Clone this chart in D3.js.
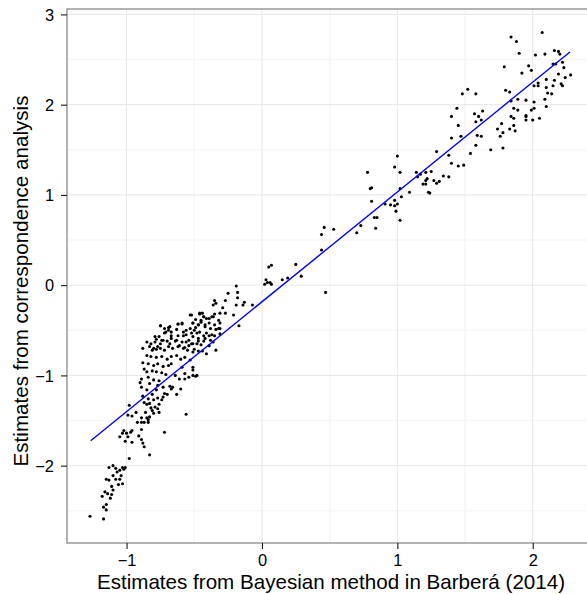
<!DOCTYPE html>
<html>
<head>
<meta charset="utf-8">
<script src="https://cdn.jsdelivr.net/npm/d3@7"></script>
<style>
  html, body { margin: 0; padding: 0; background: #fff; }
  svg { display: block; }
</style>
</head>
<body>
<script>
// ---- data ----
const points = [
  // middle band
  [0.02,0.01],[0.04,0.03],[0.06,0.03],[0.07,0.01],[0.03,0.06],[0.05,0.20],[0.07,0.22],[0.15,0.06],[0.19,0.08],[0.25,0.23],[0.29,0.10],[0.47,-0.08],[0.44,0.39],[0.44,0.56],[0.46,0.64],[0.53,0.62],[0.70,0.58],[0.73,0.66],[0.78,1.25],[0.80,1.07],[0.81,1.08],[0.81,0.93],[0.83,0.75],[0.85,0.75],[0.84,0.63],[0.91,0.90],[0.95,0.89],[0.98,0.94],[0.98,0.88],[1.00,0.90],[0.99,0.82],[1.02,0.72],[1.03,0.98],[1.02,1.07],[1.00,1.43],[0.98,1.31],[1.02,1.25],[1.09,1.03],[1.14,1.25],[1.15,1.20],[1.17,1.23],[1.19,1.12],[1.21,1.12],[1.21,1.25],[1.22,1.18],[1.21,1.16],[1.23,1.03],[1.24,1.02],[1.25,1.26],[1.27,1.16],[1.29,1.48],[1.29,1.13],[1.31,1.15],[1.34,1.21],[1.38,1.20],
  // upper right
  [1.84,2.75],[1.88,2.70],[1.90,2.57],[2.07,2.80],[1.79,2.42],[2.02,2.55],[2.09,2.56],[2.16,2.60],[2.19,2.59],[2.20,2.56],[2.22,2.47],[2.23,2.41],[2.15,2.45],[2.17,2.45],[1.97,2.43],[1.99,2.38],[1.92,2.35],[2.28,2.33],[2.24,2.30],[2.19,2.34],[2.16,2.27],[2.10,2.28],[2.04,2.24],[2.01,2.21],[2.04,2.21],[2.10,2.19],[2.15,2.21],[2.21,2.23],[2.22,2.21],[2.11,2.13],[2.14,2.12],[2.09,2.06],[2.10,1.98],[1.80,2.16],[1.83,2.14],[1.89,2.06],[1.95,2.05],[2.01,2.03],[1.84,2.04],[1.86,1.96],[1.89,1.94],[1.95,1.88],[1.95,1.87],[2.01,1.96],[1.99,1.94],[2.00,1.83],[1.95,1.83],[2.05,1.85],[1.84,1.87],[1.86,1.85],[1.77,1.79],[1.74,1.73],[1.78,1.69],[1.76,1.65],[1.83,1.73],[1.86,1.77],[1.87,1.71],[1.78,1.52],[1.48,2.12],[1.52,2.17],[1.58,2.12],[1.44,1.96],[1.40,1.87],[1.45,1.77],[1.47,1.65],[1.40,1.63],[1.57,1.90],[1.60,1.87],[1.63,1.93],[1.62,1.83],[1.58,1.81],[1.59,1.66],[1.62,1.65],[1.58,1.55],[1.54,1.46],[1.69,1.50],[1.38,1.44],[1.40,1.35],[1.45,1.32],[1.49,1.33],
  // dense cluster, right part
  [-0.19,-0.01],[-0.18,-0.08],[-0.25,-0.09],[-0.18,-0.14],[-0.13,-0.19],[-0.14,-0.22],[-0.07,-0.22],[-0.19,-0.22],[-0.27,-0.17],[-0.35,-0.17],[-0.36,-0.22],[-0.34,-0.20],[-0.29,-0.25],[-0.27,-0.31],[-0.31,-0.31],[-0.21,-0.33],[-0.35,-0.32],[-0.36,-0.35],[-0.32,-0.39],[-0.31,-0.42],[-0.17,-0.45],[-0.39,-0.37],[-0.39,-0.42],[-0.44,-0.31],[-0.46,-0.32],[-0.43,-0.35],[-0.53,-0.33],[-0.49,-0.38],[-0.45,-0.41],[-0.47,-0.44],[-0.42,-0.46],[-0.38,-0.48],[-0.34,-0.49],[-0.31,-0.48],[-0.49,-0.47],[-0.51,-0.42],[-0.59,-0.42],[-0.62,-0.43],[-0.63,-0.49],[-0.56,-0.50],[-0.52,-0.53],[-0.48,-0.53],[-0.43,-0.56],[-0.39,-0.56],[-0.35,-0.56],[-0.31,-0.54],[-0.36,-0.63],[-0.39,-0.67],[-0.34,-0.72],[-0.43,-0.62],[-0.47,-0.62],[-0.51,-0.65],[-0.54,-0.61],[-0.58,-0.56],[-0.62,-0.56],[-0.67,-0.56],[-0.64,-0.62],[-0.61,-0.67],[-0.57,-0.69],[-0.54,-0.67],[-0.50,-0.71],[-0.47,-0.73],[-0.44,-0.73],[-0.41,-0.76],[-0.63,-0.78],[-0.60,-0.82],[-0.57,-0.80],[-0.53,-0.83],[-0.67,-0.87],[-0.59,-0.91],[-0.64,-1.00],[-0.57,-0.98],[-0.54,-1.02],[-0.51,-0.91],[-0.48,-1.00],[-0.51,-0.94],[-0.68,-0.65],[-0.67,-0.79],
  // dense cluster, upper core (second reading)
  [-0.52,-0.33],[-0.46,-0.31],[-0.43,-0.35],[-0.45,-0.39],[-0.41,-0.37],[-0.37,-0.35],[-0.51,-0.42],[-0.47,-0.44],[-0.42,-0.44],[-0.35,-0.44],[-0.32,-0.48],[-0.75,-0.45],[-0.68,-0.46],[-0.62,-0.43],[-0.59,-0.43],[-0.53,-0.48],[-0.50,-0.50],[-0.46,-0.52],[-0.41,-0.53],[-0.37,-0.55],[-0.79,-0.57],[-0.72,-0.53],[-0.67,-0.52],[-0.58,-0.52],[-0.56,-0.55],[-0.51,-0.57],[-0.47,-0.59],[-0.42,-0.59],[-0.38,-0.61],[-0.85,-0.63],[-0.82,-0.65],[-0.74,-0.61],[-0.67,-0.59],[-0.63,-0.61],[-0.59,-0.63],[-0.56,-0.63],[-0.52,-0.65],[-0.48,-0.65],[-0.45,-0.66],[-0.88,-0.70],[-0.80,-0.70],[-0.77,-0.68],[-0.69,-0.68],[-0.66,-0.70],[-0.62,-0.68],[-0.58,-0.70],[-0.55,-0.72],[-0.51,-0.74],
  // dense cluster, left part
  [-0.72,-0.48],[-0.75,-0.45],[-0.71,-0.52],[-0.76,-0.57],[-0.78,-0.60],[-0.73,-0.61],[-0.79,-0.63],[-0.75,-0.65],[-0.70,-0.62],[-0.83,-0.68],[-0.81,-0.72],[-0.78,-0.71],[-0.75,-0.70],[-0.72,-0.72],[-0.85,-0.78],[-0.82,-0.79],[-0.78,-0.80],[-0.74,-0.79],[-0.70,-0.82],[-0.88,-0.86],[-0.84,-0.87],[-0.80,-0.89],[-0.77,-0.87],[-0.73,-0.90],[-0.69,-0.89],[-0.87,-0.93],[-0.85,-0.96],[-0.81,-0.95],[-0.78,-0.96],[-0.74,-0.97],[-0.71,-0.99],[-0.89,-1.04],[-0.84,-1.02],[-0.80,-1.05],[-0.76,-1.06],[-0.90,-1.08],[-0.83,-1.09],[-0.77,-1.11],[-0.89,-1.13],[-0.85,-1.16],[-0.78,-1.16],[-0.73,-1.13],[-0.81,-1.21],[-0.67,-1.15],[-0.60,-1.15],[-0.61,-1.04],[-0.57,-1.04],[-0.51,-1.00],[-0.49,-1.01],[-0.69,-0.50],[-0.69,-0.47],[-0.68,-1.12],[-0.66,-1.13],[-0.63,-1.21],[-0.72,-1.20],[-0.70,-1.21],
  // lower tail
  [-1.27,-2.56],[-1.17,-2.59],[-1.17,-2.46],[-1.15,-2.43],[-1.15,-2.49],[-1.18,-2.34],[-1.16,-2.29],[-1.14,-2.31],[-1.12,-2.36],[-1.11,-2.32],[-1.10,-2.27],[-1.15,-2.15],[-1.13,-2.16],[-1.11,-2.23],[-1.10,-2.11],[-1.08,-2.15],[-1.06,-2.21],[-1.03,-2.20],[-1.05,-2.15],[-1.04,-2.11],[-1.13,-2.02],[-1.10,-2.00],[-1.08,-2.03],[-1.07,-2.07],[-1.05,-2.05],[-1.03,-2.02],[-1.01,-2.02],[-1.02,-2.04],[-0.98,-1.92],[-0.83,-1.88],[-1.05,-1.68],[-1.03,-1.64],[-1.02,-1.61],[-1.00,-1.64],[-0.99,-1.68],[-0.97,-1.63],[-0.96,-1.61],[-1.01,-1.73],[-0.96,-1.74],[-0.91,-1.67],[-0.89,-1.71],[-0.88,-1.75],[-0.87,-1.79],[-0.89,-1.60],[-0.72,-1.63],[-0.56,-1.43],[-0.98,-1.33],[-0.99,-1.44],[-0.96,-1.45],[-0.93,-1.41],[-0.92,-1.52],[-0.89,-1.52],[-0.87,-1.52],[-0.84,-1.52],[-0.84,-1.49],[-0.85,-1.47],[-0.89,-1.47],[-0.83,-1.46],[-0.86,-1.41],[-0.81,-1.39],[-0.80,-1.42],[-0.82,-1.36],[-0.79,-1.35],[-0.77,-1.37],[-0.76,-1.41],[-0.88,-1.23],[-0.87,-1.30],[-0.85,-1.32],[-0.83,-1.31],[-0.84,-1.26],[-0.80,-1.27],[-0.77,-1.25],[-0.74,-1.27],[-0.76,-1.32],[-0.73,-1.24]
];
const bayesian = points.map(p => p[0]);
const correspondence = points.map(p => p[1]);

// fitted regression line (end points)
const fitX = [-1.265, 2.275];
const fitY = [-1.724, 2.584];

const xTicks = [-1, 0, 1, 2];
const yTicks = [-2, -1, 0, 1, 2, 3];
const xMinor = [-0.5, 0.5, 1.5];
const yMinor = [-2.5, -1.5, -0.5, 0.5, 1.5, 2.5];

const xDomain = [-1.44, 2.46];
const yDomain = [-2.857, 3.06];

const xLabel = "Estimates from Bayesian method in Barberá (2014)";
const yLabel = "Estimates from correspondence analysis";

// ---- layout ----
const W = 587, H = 594;
const panel = { left: 67, right: 595, top: 9, bottom: 543 };
const FONT = "'Liberation Sans', Arial, Helvetica, sans-serif";

const svg = d3.select("body").append("svg")
  .attr("width", W).attr("height", H)
  .style("font-family", FONT);

svg.append("rect").attr("width", W).attr("height", H).attr("fill", "#fff");

const x = d3.scaleLinear().domain(xDomain).range([panel.left, panel.right]);
const y = d3.scaleLinear().domain(yDomain).range([panel.bottom, panel.top]);

const fmt = v => (v < 0 ? "\u2212" + Math.abs(v) : String(v));

// minor grid
const grid = svg.append("g");
grid.selectAll("line.xmin").data(xMinor).join("line")
  .attr("x1", d => x(d)).attr("x2", d => x(d))
  .attr("y1", panel.top).attr("y2", panel.bottom)
  .attr("stroke", "#f7f7f7").attr("stroke-width", 1.6);
grid.selectAll("line.ymin").data(yMinor).join("line")
  .attr("y1", d => y(d)).attr("y2", d => y(d))
  .attr("x1", panel.left).attr("x2", panel.right)
  .attr("stroke", "#f7f7f7").attr("stroke-width", 1.6);
// major grid
grid.selectAll("line.xmaj").data(xTicks).join("line")
  .attr("x1", d => x(d)).attr("x2", d => x(d))
  .attr("y1", panel.top).attr("y2", panel.bottom)
  .attr("stroke", "#e6e6e6").attr("stroke-width", 1);
grid.selectAll("line.ymaj").data(yTicks).join("line")
  .attr("y1", d => y(d)).attr("y2", d => y(d))
  .attr("x1", panel.left).attr("x2", panel.right)
  .attr("stroke", "#e6e6e6").attr("stroke-width", 1);

// points
svg.append("g").selectAll("circle").data(points).join("circle")
  .attr("cx", (d, i) => x(bayesian[i]))
  .attr("cy", (d, i) => y(correspondence[i]))
  .attr("r", 1.55)
  .attr("fill", "#000");

// regression line
svg.append("path")
  .datum(d3.zip(fitX, fitY))
  .attr("d", d3.line().x(d => x(d[0])).y(d => y(d[1])))
  .attr("fill", "none").attr("stroke", "#0000ff").attr("stroke-width", 1.4);

// panel border
svg.append("rect")
  .attr("x", panel.left).attr("y", panel.top)
  .attr("width", panel.right - panel.left).attr("height", panel.bottom - panel.top)
  .attr("fill", "none").attr("stroke", "#808080").attr("stroke-width", 1.2);

// axes
const xAxis = d3.axisBottom(x).tickValues(xTicks).tickSize(6).tickPadding(5).tickFormat(fmt);
const yAxis = d3.axisLeft(y).tickValues(yTicks).tickSize(6).tickPadding(5).tickFormat(fmt);

const gx = svg.append("g").attr("transform", `translate(0,${panel.bottom})`).call(xAxis);
const gy = svg.append("g").attr("transform", `translate(${panel.left},0)`).call(yAxis);
[gx, gy].forEach(g => {
  g.select(".domain").remove();
  g.selectAll(".tick line").attr("stroke", "#1a1a1a").attr("stroke-width", 1.1);
  g.selectAll(".tick text").attr("fill", "#000").style("font-size", "16.4px")
    .style("font-family", FONT);
});
gx.selectAll(".tick text").attr("y", 11).attr("dy", "0.71em");
gy.selectAll(".tick text").attr("x", -13).attr("dy", "0.35em");

// axis titles
svg.append("text")
  .attr("x", (panel.left + panel.right) / 2).attr("y", 589)
  .attr("text-anchor", "middle")
  .style("font-size", "20.6px").attr("fill", "#000")
  .text(xLabel);

svg.append("text")
  .attr("transform", `translate(27.5,281) rotate(-90)`)
  .attr("text-anchor", "middle")
  .style("font-size", "20.6px").attr("fill", "#000")
  .text(yLabel);
</script>
</body>
</html>
